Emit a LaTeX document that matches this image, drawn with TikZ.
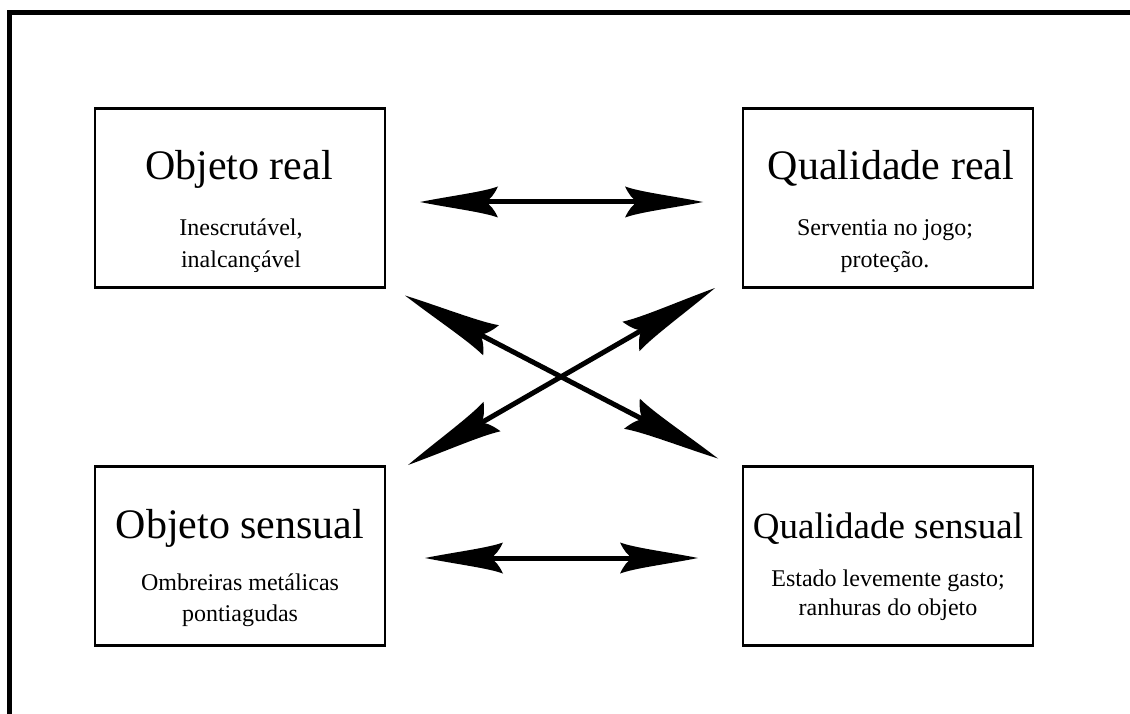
\documentclass[tikz,border=0pt]{standalone}
\usepackage{fontspec}
\setmainfont{Liberation Serif}
\usetikzlibrary{arrows.meta,calc}

% Barbed arrow tip: slightly concave flanks, swept-back barbs, notched back
\newdimen\barbnotch
\newdimen\barbA
\newdimen\barbB
\pgfdeclarearrow{
  name = Barb,
  defaults = {length = 78pt, width = 31pt, inset = 13pt},
  parameters = {\the\pgfarrowlength,\the\pgfarrowwidth,\the\pgfarrowinset},
  setup code = {
    \pgfarrowssettipend{0pt}
    \pgfarrowssetbackend{-\pgfarrowlength}
    \pgfarrowssetlineend{-.5\pgfarrowlength}
    \pgfarrowshullpoint{0pt}{0pt}
    \pgfarrowsupperhullpoint{-\pgfarrowlength}{.5\pgfarrowwidth}
    \pgfarrowssavethe\pgfarrowlength
    \pgfarrowssavethe\pgfarrowwidth
    \pgfarrowssavethe\pgfarrowinset
  },
  drawing code = {
    \barbnotch=\pgfarrowinset
    \advance\barbnotch by -\pgfarrowlength
    \barbA=-\pgfarrowlength
    \advance\barbA by .25\pgfarrowinset
    \barbB=-\pgfarrowlength
    \advance\barbB by .6\pgfarrowinset
    \pgfpathmoveto{\pgfqpoint{0pt}{0pt}}
    \pgfpathcurveto{\pgfqpoint{-.4\pgfarrowlength}{.2\pgfarrowwidth}}
                   {\pgfqpoint{-.8\pgfarrowlength}{.32\pgfarrowwidth}}
                   {\pgfqpoint{-\pgfarrowlength}{.5\pgfarrowwidth}}
    \pgfpathcurveto{\pgfqpoint{\barbA}{.28\pgfarrowwidth}}
                   {\pgfqpoint{\barbB}{.06\pgfarrowwidth}}
                   {\pgfqpoint{\barbnotch}{0pt}}
    \pgfpathcurveto{\pgfqpoint{\barbB}{-.06\pgfarrowwidth}}
                   {\pgfqpoint{\barbA}{-.28\pgfarrowwidth}}
                   {\pgfqpoint{-\pgfarrowlength}{-.5\pgfarrowwidth}}
    \pgfpathcurveto{\pgfqpoint{-.8\pgfarrowlength}{-.32\pgfarrowwidth}}
                   {\pgfqpoint{-.4\pgfarrowlength}{-.2\pgfarrowwidth}}
                   {\pgfqpoint{0pt}{0pt}}
    \pgfpathclose
    \pgfusepathqfill
  }
}

\tikzset{
  box/.style={draw, line width=2.5pt, minimum width=290pt, minimum height=179pt,
    inner sep=0pt, outer sep=0pt},
  title/.style={anchor=base, inner sep=0pt, font=\fontsize{42}{50}\selectfont},
  subline/.style={anchor=base, inner sep=0pt, font=\fontsize{24}{30}\selectfont},
  hlink/.style={line width=5pt,
    arrows={Barb[length=78pt,width=31pt,inset=13pt]-Barb[length=78pt,width=31pt,inset=13pt]}},
  xlink/.style={line width=5pt,
    arrows={Barb[length=97pt,width=34pt,inset=13pt]-Barb[length=97pt,width=34pt,inset=13pt]}},
}

\begin{document}
\begin{tikzpicture}[x=1pt,y=-1pt]
  \fill[white] (0,0) rectangle (1130,714);
  \useasboundingbox (0,0) rectangle (1130,714);

  % outer frame (top and left sides)
  \draw[line width=4.5pt, line join=miter] (9.5,714) -- (9.5,12.5) -- (1130,12.5);

  % the four boxes
  \node[box] (or) at (240,198) {};
  \node[box] (qr) at (888,198) {};
  \node[box] (os) at (240,556) {};
  \node[box] (qs) at (888,556) {};

  % Objeto real
  \node[title]   (orT) at (239,180) {Objeto real};
  \node[subline] (or1) at (241,236) {Inescrutável,};
  \node[subline] (or2) at (241,267) {inalcançável};

  % Qualidade real
  \node[title]   (qrT) at (891,180) {Qualidade real};
  \node[subline] (qr1) at (885,236) {Serventia no jogo;};
  \node[subline] (qr2) at (885,268) {proteção.};

  % Objeto sensual
  \node[title]   (osT) at (240,538) {Objeto sensual};
  \node[subline] (os1) at (240,590) {Ombreiras metálicas};
  \node[subline] (os2) at (240,621) {pontiagudas};

  % Qualidade sensual
  \node[title, font=\fontsize{37}{44}\selectfont] (qsT) at (888,538) {Qualidade sensual};
  \node[subline] (qs1) at (888,586) {Estado levemente gasto;};
  \node[subline] (qs2) at (888,615) {ranhuras do objeto};

  % horizontal links
  \draw[hlink, shorten <=35pt, shorten >=40pt]
    ($(or.east)+(0,4)$) -- ($(qr.west)+(0,4)$);
  \draw[hlink, shorten <=40pt, shorten >=45pt]
    ($(os.east)+(0,2)$) -- ($(qs.west)+(0,2)$);

  % diagonal links
  \draw[xlink] ($(or.south east)+(20,8)$) -- ($(qs.north west)+(-25,-8)$);
  \draw[xlink] ($(os.north east)+(23,-1.5)$) -- ($(qr.south west)+(-28,0.5)$);
\end{tikzpicture}
\end{document}
